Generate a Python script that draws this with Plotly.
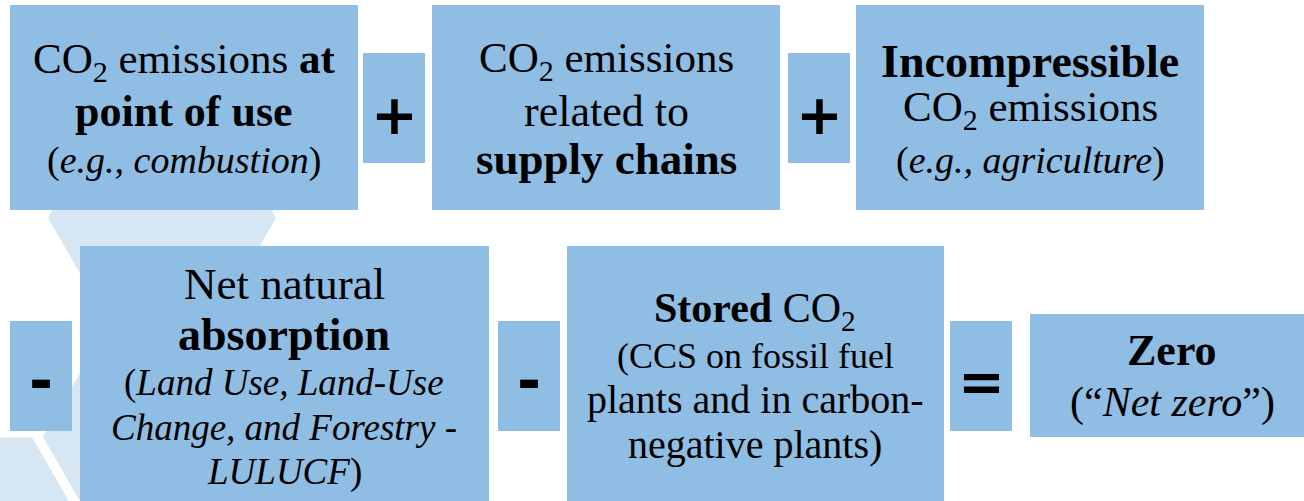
import plotly.graph_objects as go

# ---------------- content ----------------
box_names = ["point_of_use", "supply_chains", "incompressible",
             "natural_absorption", "stored", "zero"]
box_lines = [
    ["CO<sub>2</sub> emissions <b>at</b>", "<b>point of use</b>", "(<i>e.g., combustion</i>)"],
    ["CO<sub>2</sub> emissions", "related to", "<b>supply chains</b>"],
    ["<b>Incompressible</b>", "CO<sub>2</sub> emissions", "(<i>e.g., agriculture</i>)"],
    ["Net natural", "<b>absorption</b>", "(<i>Land Use, Land-Use</i>",
     "<i>Change, and Forestry -</i>", "<i>LULUCF</i>)"],
    ["<b>Stored</b> CO<sub>2</sub>", "(CCS on fossil fuel", "plants and in carbon-",
     "negative plants)"],
    ["<b>Zero</b>", "(“<i>Net zero</i>”)"],
]
operator_symbols = ["+", "+", "-", "-", "="]

# ---------------- layout (pixel geometry) ----------------
W, H = 1304, 501
box_rects = [  # x0, y0, x1, y1
    (10, 5, 358, 210),
    (432, 5, 780, 210),
    (856, 5, 1204, 210),
    (80, 246, 489, 520),
    (567, 246, 944, 520),
    (1030, 314, 1320, 437),
]
box_text_cx = [184, 606, 1030, 284, 755, 1172]
box_baselines = [
    [77, 126, 173],
    [76, 126, 174],
    [77, 125, 173],
    [299, 350, 396, 440, 485],
    [325, 368, 413, 458],
    [365, 417],
]
line_sizes = [
    [43, 44, 38],
    [43, 44, 45],
    [46, 43, 38],
    [45, 46, 37, 37, 37],
    [42, 36, 40, 40],
    [44, 42],
]
op_rects = [
    (363, 53, 425, 163),
    (788, 53, 850, 163),
    (10, 321, 72, 431),
    (498, 321, 560, 431),
    (950, 321, 1012, 431),
]
op_centers = [(394, 114), (819, 114), (41, 381), (529, 381), (981, 381)]
op_sizes = [56, 56, 58, 58, 56]

hex_specs = [  # center x, center y, half-width
    (162, 218, 114),
    (157, 437, 114),
    (-25, 536, 114),
]

BOX_COLOR = "#8FBDE3"
HEX_COLOR = "#D6E6F3"
FONT = "Liberation Serif, Times New Roman, serif"
OP_FONT = "DejaVu Sans, Arial, sans-serif"

fig = go.Figure()
fig.add_trace(go.Scatter(x=[0, W], y=[0, H], mode="markers",
                         marker=dict(opacity=0), hoverinfo="skip", showlegend=False))

shapes = []
for cx, cy, r in hex_specs:
    h = r * 0.8660254
    pts = [(cx - r, cy), (cx - r / 2, cy - h), (cx + r / 2, cy - h),
           (cx + r, cy), (cx + r / 2, cy + h), (cx - r / 2, cy + h)]
    path = "M " + " L ".join(f"{px:.1f},{py:.1f}" for px, py in pts) + " Z"
    shapes.append(dict(type="path", path=path, xref="x", yref="y",
                       fillcolor=HEX_COLOR, line=dict(width=0), layer="below"))

for x0, y0, x1, y1 in box_rects + op_rects:
    shapes.append(dict(type="rect", x0=x0, y0=y0, x1=x1, y1=y1, xref="x", yref="y",
                       fillcolor=BOX_COLOR, line=dict(width=0), layer="below"))

annotations = []
for lines, cx, bases, sizes in zip(box_lines, box_text_cx, box_baselines, line_sizes):
    for txt, b, s in zip(lines, bases, sizes):
        annotations.append(dict(text=txt, x=cx, y=b - 0.34 * s, xref="x", yref="y",
                                xanchor="center", yanchor="middle", showarrow=False,
                                font=dict(family=FONT, size=s, color="black")))

for sym, (ox, oy), s in zip(operator_symbols, op_centers, op_sizes):
    annotations.append(dict(text=f"<b>{sym}</b>", x=ox, y=oy, xref="x", yref="y",
                            xanchor="center", yanchor="middle", showarrow=False,
                            font=dict(family=OP_FONT, size=s, color="black")))

fig.update_layout(
    width=W, height=H, margin=dict(l=0, r=0, t=0, b=0),
    paper_bgcolor="white", plot_bgcolor="white",
    xaxis=dict(range=[0, W], visible=False, fixedrange=True),
    yaxis=dict(range=[H, 0], visible=False, fixedrange=True),
    shapes=shapes, annotations=annotations, showlegend=False,
)
fig.write_html("out.html",
               config={"displayModeBar": False},
               post_script="document.body.style.margin='0';"
                           "document.body.style.overflow='hidden';")
